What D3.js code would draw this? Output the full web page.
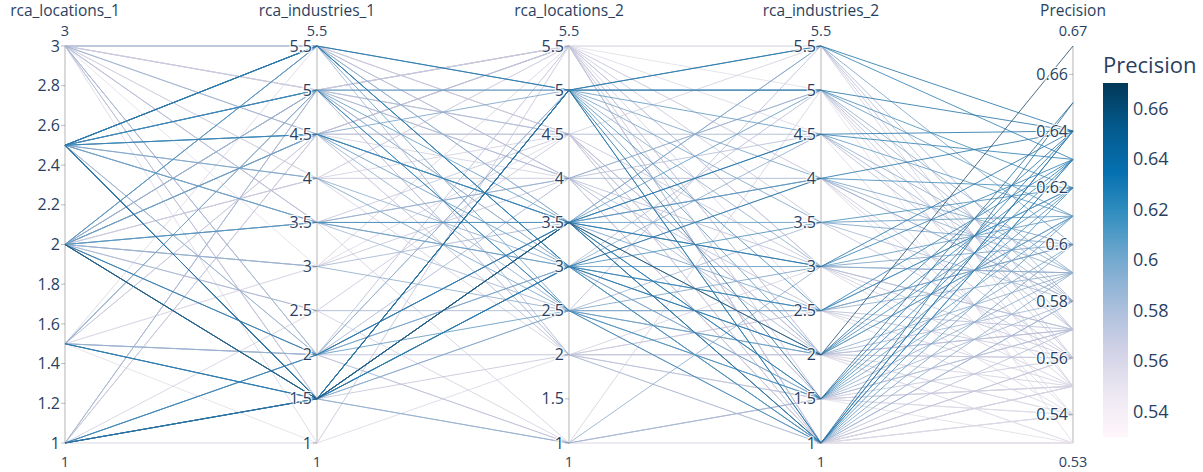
<!DOCTYPE html>
<html>
<head>
<meta charset="utf-8">
<script src="https://cdn.jsdelivr.net/npm/d3@7"></script>
<style>
  body { margin: 0; background: #fff; }
  svg text { font-family: "Open Sans", verdana, arial, sans-serif; fill: #2a3f5f; }
  .halo { text-shadow: 1px 1px 1px #fff, -1px -1px 1px #fff, 1px -1px 1px #fff, -1px 1px 1px #fff; }
</style>
</head>
<body>
<svg id="chart" width="1203" height="472"></svg>
<script>
var dimNames = ["rca_locations_1", "rca_industries_1", "rca_locations_2", "rca_industries_2", "Precision"];

// one entry per trial
var rcaLocations1 = [2,1,2.5,2.5,1,2.5,2,1.5,2.5,1,
  2.5,2,2.5,1.5,2.5,1,2,2.5,1,2.5,
  2.5,2,2.5,1,2,2.5,2,1.5,2.5,1,
  2.5,2,2.5,2,1.5,2.5,2,2.5,2,2.5,
  2,1,2.5,2,2,2.5,2.5,2,1.5,2.5,
  2,2.5,3,2,2,2.5,1.5,3,2,2.5,
  1,2,3,3,2,1,2,3,2,1.5,
  3,2.5,2,3,3,2,3,2,1,3,
  2,1.5,3,2,2.5,3,1,2,1.5,3,
  1,3,2,1.5,3,2,1,3,1.5,3,
  1.5,2,3,1,3,1.5,2,3,1.5,3,
  1.5,3,2,1.5,3,1];
var rcaIndustries1 = [1.5,1.5,1.5,1.5,1.5,5.5,1.5,1.5,1.5,1.5,
  5.5,2,5.5,1.5,4.5,1.5,1.5,5,2,1.5,
  5.5,1.5,4.5,1.5,5.5,5,3.5,1.5,5.5,2,
  5,4.5,4.5,1.5,5,3.5,2,1.5,3.5,5,
  5.5,2,4,4.5,3.5,1.5,4,3,2,3.5,
  5,2,4.5,3,2.5,1.5,2,2,5,3.5,
  5,2,5.5,2,5.5,5,5,3.5,4.5,2,
  5.5,2,4.5,1.5,5.5,5,3.5,4,4.5,1.5,
  2.5,4.5,5,3,5.5,4,1,4,4.5,3.5,
  4.5,5,4.5,5,4,5.5,2.5,5,5,1,
  5.5,4,5,5,4.5,3,5,2,3,5,
  1,4.5,4.5,5,3,4.5];
var rcaLocations2 = [3.5,3.5,5,3.5,5,3,3.5,5,3,3.5,
  5,3.5,5,3,3.5,5,3.5,2.5,3.5,3,
  3,5,3.5,5,3,2.5,3.5,3,2.5,2.5,
  5,3,3.5,5,3.5,3,3,2.5,3.5,5,
  3.5,3,2.5,5,3,1,3,2.5,3.5,4,
  3,5,2.5,3.5,2.5,1,4,3.5,4,2.5,
  4.5,5,2,2,4,3,2,4,5.5,1,
  4,5.5,4.5,2.5,3.5,5.5,4.5,4,5.5,2,
  4.5,2,5.5,4,4.5,4.5,5.5,2,5.5,1,
  4.5,5.5,4,2,5.5,4.5,1,4.5,5.5,2,
  4.5,5.5,4,5.5,5.5,4.5,5.5,1,5.5,4.5,
  5.5,5.5,4.5,4,5.5,2];
var rcaIndustries2 = [2,1,1.5,1,5.5,2,4.5,1,4,1.5,
  5,3,5.5,2,4.5,1,3,1,1.5,2.5,
  1,5,4,2.5,2.5,1.5,2,3.5,2,1.5,
  4.5,3,3.5,2,5,1,1.5,2.5,2.5,4,
  5.5,1,3,3.5,4.5,3,4,2,1,5,
  1.5,3,2.5,4,1,1.5,4,5.5,2,3.5,
  4.5,5,1,2,3,5,1.5,2.5,1,1.5,
  4.5,3,2,5.5,4,2,1,5,3.5,2.5,
  1.5,2,5.5,1,3,2,1,1.5,4,5,
  1.5,2.5,1,3,1.5,5.5,1,1,2,2.5,
  1.5,4.5,1,3,1,2,4,1.5,1,2,
  1.5,5,1,1,2,1];
var precision = [0.67,0.65,0.65,0.64,0.64,0.64,0.64,0.64,0.64,0.64,
  0.64,0.64,0.63,0.63,0.63,0.63,0.63,0.63,0.63,0.63,
  0.62,0.62,0.62,0.62,0.62,0.62,0.62,0.62,0.61,0.61,
  0.61,0.61,0.61,0.61,0.61,0.61,0.60,0.60,0.60,0.60,
  0.60,0.60,0.60,0.60,0.59,0.59,0.59,0.59,0.59,0.59,
  0.59,0.59,0.59,0.58,0.58,0.58,0.58,0.58,0.58,0.58,
  0.58,0.58,0.58,0.57,0.57,0.57,0.57,0.57,0.57,0.57,
  0.57,0.57,0.57,0.57,0.56,0.56,0.56,0.56,0.56,0.56,
  0.56,0.56,0.56,0.56,0.56,0.55,0.55,0.55,0.55,0.55,
  0.55,0.55,0.55,0.55,0.55,0.55,0.55,0.54,0.54,0.54,
  0.54,0.54,0.54,0.54,0.54,0.54,0.54,0.54,0.53,0.53,
  0.53,0.53,0.53,0.53,0.53,0.53];

var locTicks = [1, 1.2, 1.4, 1.6, 1.8, 2, 2.2, 2.4, 2.6, 2.8, 3];
var indTicks = [1, 1.5, 2, 2.5, 3, 3.5, 4, 4.5, 5, 5.5];
var precTicks = [0.54, 0.56, 0.58, 0.6, 0.62, 0.64, 0.66];
var colorbarTicks = [0.54, 0.56, 0.58, 0.6, 0.62, 0.64, 0.66];

// PuBu colorscale
var scaleStops = [0, 0.125, 0.25, 0.375, 0.5, 0.625, 0.75, 0.875, 1];
var scaleColors = ["rgb(255,247,251)", "rgb(236,231,242)", "rgb(208,209,230)", "rgb(166,189,219)",
  "rgb(116,169,207)", "rgb(54,144,192)", "rgb(5,112,176)", "rgb(4,90,141)", "rgb(2,56,88)"];

var columns = [rcaLocations1, rcaIndustries1, rcaLocations2, rcaIndustries2, precision];
var tickSets = [locTicks, indTicks, indTicks, indTicks, precTicks];

var svg = d3.select("#chart");
var yTop = 46, yBottom = 443;

var x = d3.scalePoint().domain(dimNames).range([65, 1073]);

var ys = columns.map(function(col) {
  return d3.scaleLinear().domain(d3.extent(col)).range([yBottom, yTop]);
});

var cmin = d3.min(precision), cmax = d3.max(precision);
var color = d3.scaleLinear()
  .domain(scaleStops.map(function(s) { return cmin + s * (cmax - cmin); }))
  .range(scaleColors)
  .interpolate(d3.interpolateRgb);
// webgl lines come out a bit greyer than the scale, light ones stay visible
var lineColor = function(p) { return d3.interpolateRgb(color(p), "rgb(150,156,182)")(0.27); };

var fmt = function(v) { return String(+v.toFixed(2)); };

// trials, low precision first so the best ones end up on top
var trials = precision.map(function(p, i) { return i; })
  .sort(function(a, b) { return precision[a] - precision[b]; });

var line = d3.line()
  .x(function(d) { return x(dimNames[d[0]]); })
  .y(function(d) { return ys[d[0]](d[1]); });

// axis lines under the traces
svg.append("g").selectAll("line")
  .data(dimNames)
  .enter().append("line")
    .attr("x1", function(d) { return x(d); }).attr("x2", function(d) { return x(d); })
    .attr("y1", yTop).attr("y2", yBottom)
    .attr("stroke", "#444").attr("stroke-opacity", 0.2).attr("stroke-width", 2);

svg.append("g").attr("class", "lines")
  .selectAll("path")
  .data(trials)
  .enter().append("path")
    .attr("d", function(i) {
      return line(columns.map(function(col, k) { return [k, col[i]]; }));
    })
    .attr("fill", "none")
    .attr("stroke", function(i) { return lineColor(precision[i]); })
    .attr("stroke-width", 1)
    .attr("stroke-opacity", 0.85);

var axes = svg.selectAll(".dimension")
  .data(dimNames)
  .enter().append("g")
    .attr("class", "dimension")
    .attr("transform", function(d) { return "translate(" + x(d) + ",0)"; });

// ticks, range labels and titles
axes.each(function(d, k) {
  var g = d3.select(this);
  var ticks = g.selectAll(".tick")
    .data(tickSets[k])
    .enter().append("g")
      .attr("class", "tick")
      .attr("transform", function(v) { return "translate(0," + ys[k](v) + ")"; });
  ticks.append("line")
    .attr("x1", -4).attr("x2", 0)
    .attr("stroke", "#444").attr("stroke-opacity", 0.35);
  ticks.append("text")
    .attr("class", "halo")
    .attr("x", -5)
    .attr("dy", "0.35em")
    .attr("text-anchor", "end")
    .style("font-size", "16px")
    .text(fmt);

  var ext = ys[k].domain();
  g.append("text")
    .attr("y", 36)
    .attr("text-anchor", "middle")
    .style("font-size", "14.5px")
    .text(fmt(ext[1]));
  g.append("text")
    .attr("y", 467)
    .attr("text-anchor", "middle")
    .style("font-size", "14.5px")
    .text(fmt(ext[0]));
  g.append("text")
    .attr("y", 16)
    .attr("text-anchor", "middle")
    .style("font-size", "15.5px")
    .text(d);
});

// colorbar
var cbX = 1103, cbW = 25;
var cy = d3.scaleLinear().domain([cmin, cmax]).range([437, 83]);

var grad = svg.append("defs").append("linearGradient")
  .attr("id", "cbgrad")
  .attr("x1", 0).attr("y1", 1).attr("x2", 0).attr("y2", 0);
grad.selectAll("stop")
  .data(scaleStops)
  .enter().append("stop")
    .attr("offset", function(s) { return s; })
    .attr("stop-color", function(s, i) { return scaleColors[i]; });

svg.append("rect")
  .attr("x", cbX).attr("y", cy(cmax))
  .attr("width", cbW).attr("height", cy(cmin) - cy(cmax))
  .attr("fill", "url(#cbgrad)");

svg.append("g").selectAll("text")
  .data(colorbarTicks)
  .enter().append("text")
    .attr("x", cbX + cbW + 5)
    .attr("y", function(v) { return cy(v); })
    .attr("dy", "0.35em")
    .style("font-size", "18px")
    .text(fmt);

svg.append("text")
  .attr("x", cbX)
  .attr("y", 73)
  .style("font-size", "22px")
  .text("Precision");
</script>
</body>
</html>
